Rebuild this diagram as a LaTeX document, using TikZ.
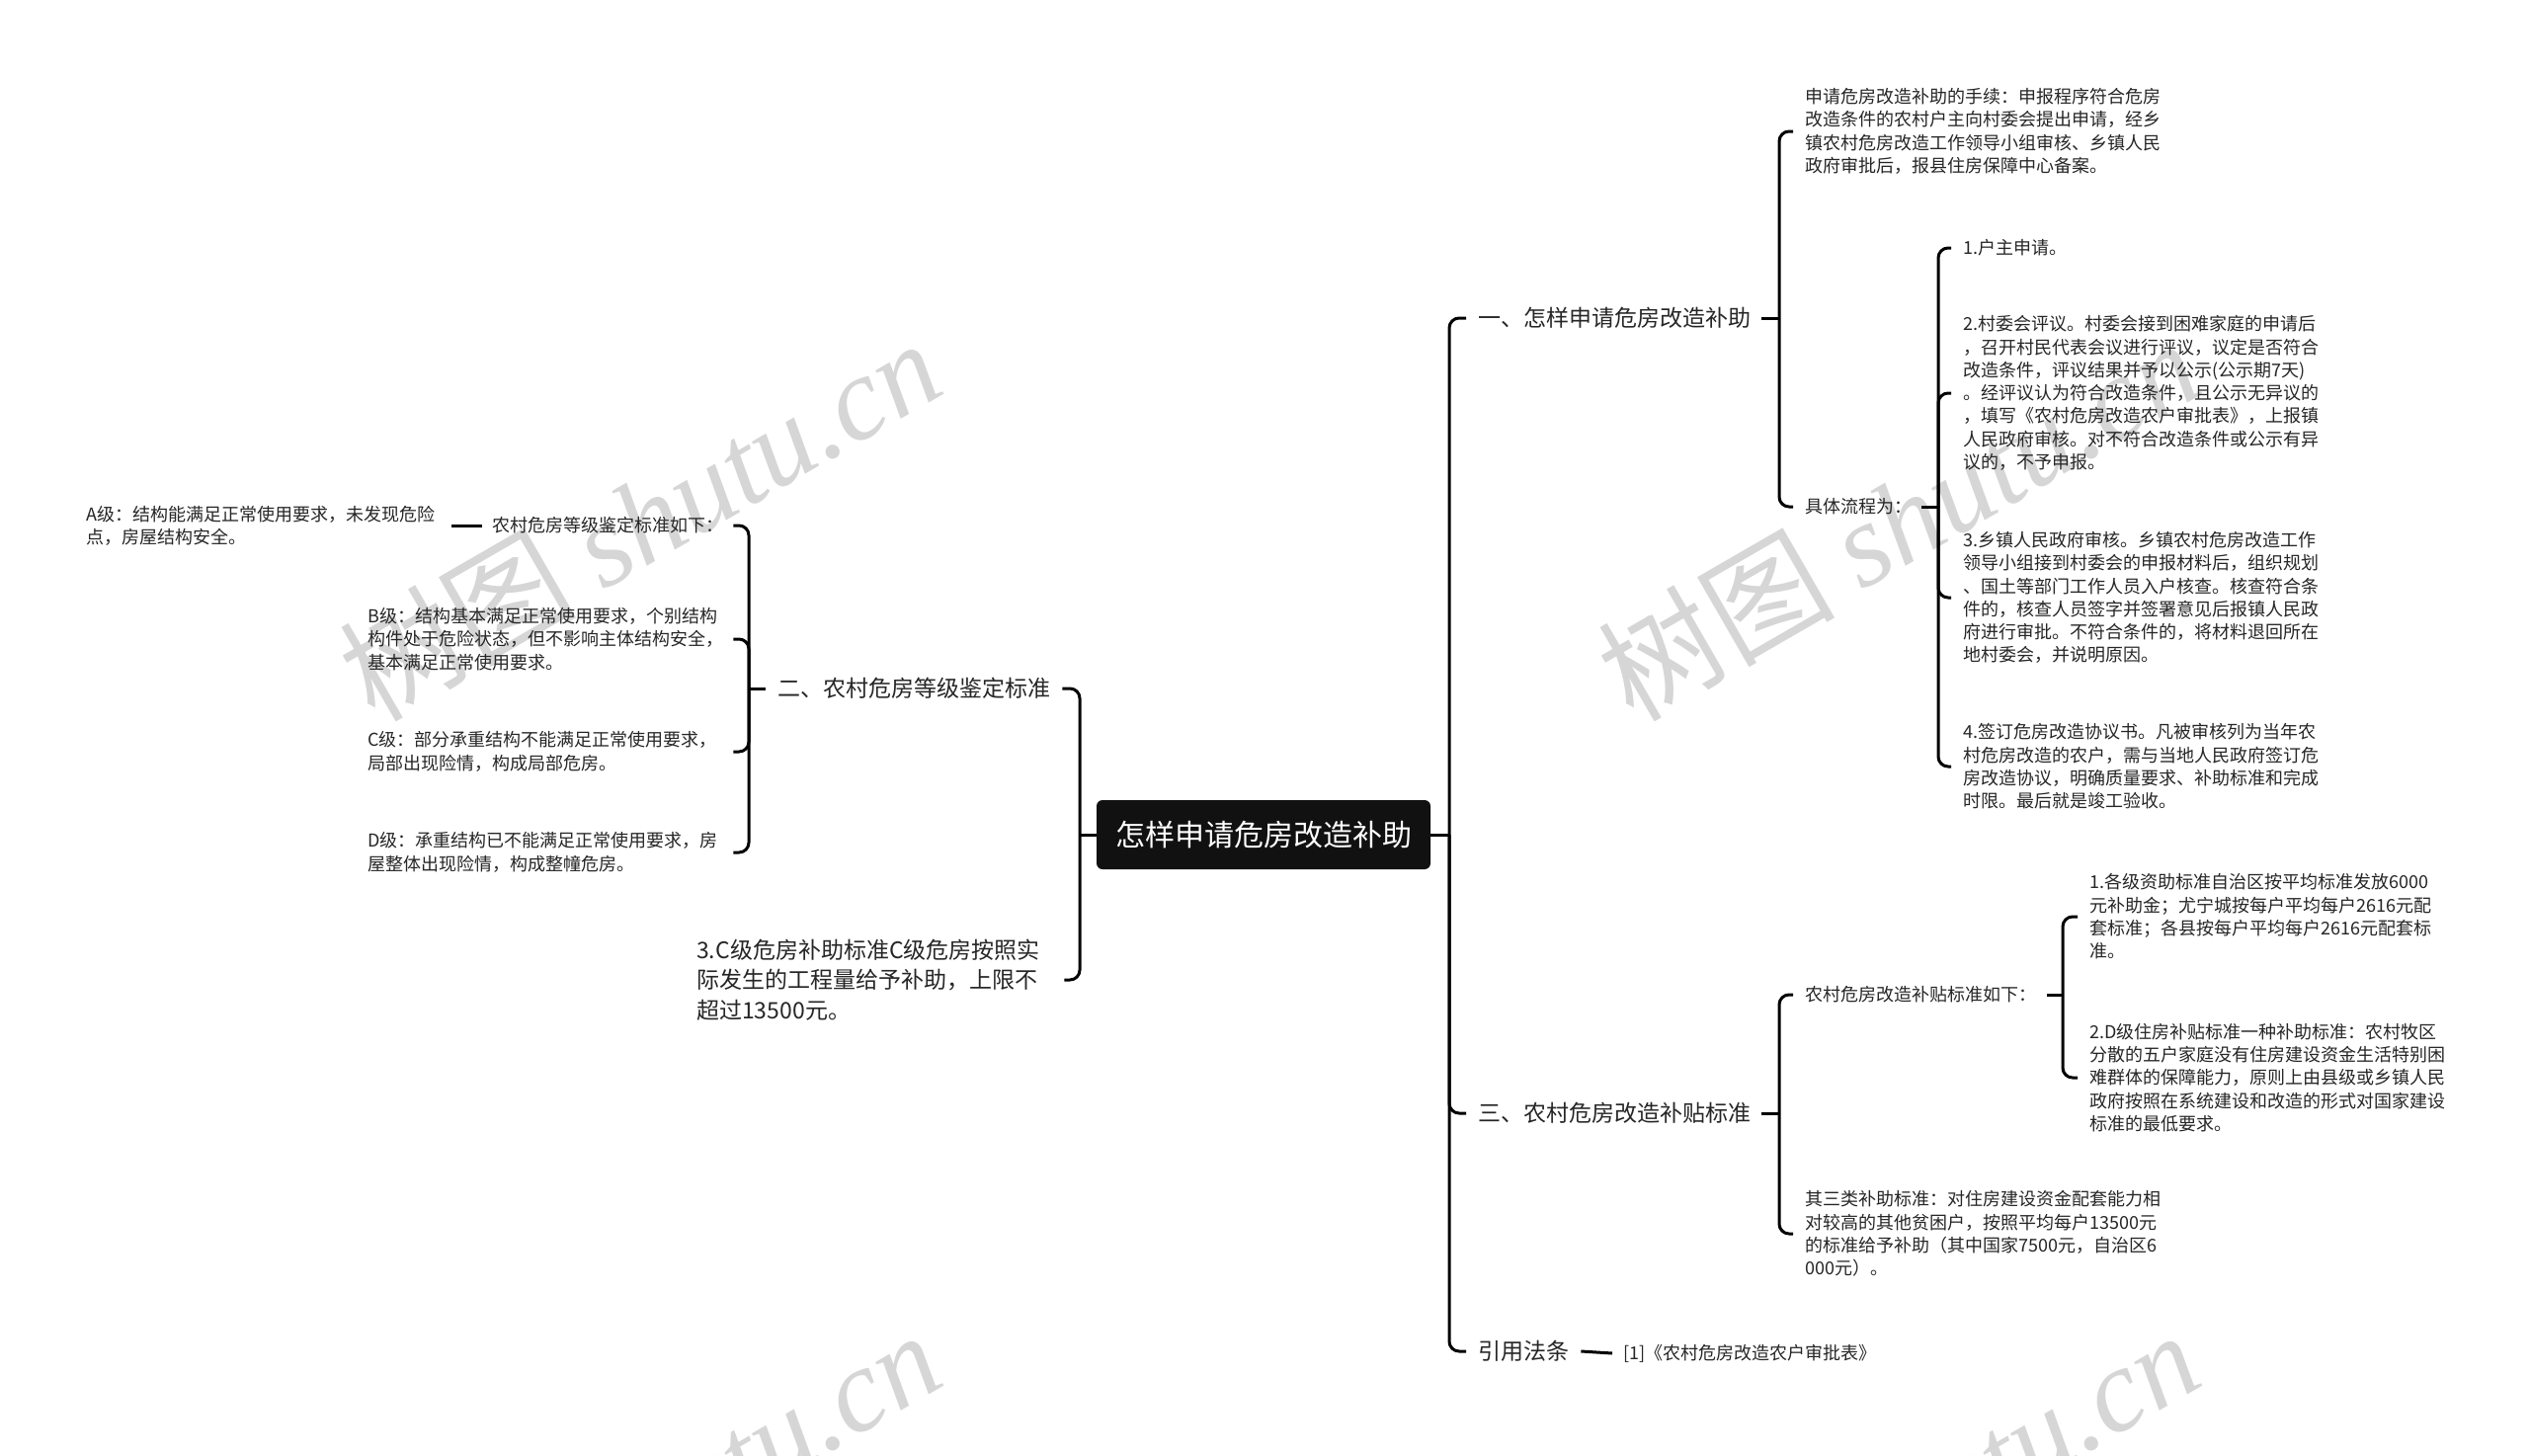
\documentclass[tikz,border=0pt]{standalone}
\usepackage{fontspec}
\setmainfont{Noto Sans CJK SC}
\newfontfamily\cjk{Noto Sans CJK SC}
\newfontfamily\wmserif{Liberation Serif}
\usetikzlibrary{calc}
\definecolor{ink}{RGB}{38,38,38}
\definecolor{rootfill}{RGB}{17,17,17}
\definecolor{wmgray}{RGB}{214,214,214}
\begin{document}
\begin{tikzpicture}[x=1pt,y=-1pt,
  conn/.style={line width=3pt,draw=black,rounded corners=10pt},
  txt/.style={inner sep=0pt,anchor=west,align=left,text=ink},
  lvA/.style={txt,font=\fontsize{23}{30.5}\selectfont},
  lvB/.style={txt,font=\fontsize{18}{23.3}\selectfont},
  rootbox/.style={fill=rootfill,text=white,rounded corners=6pt,minimum width=338pt,minimum height=70pt,inner sep=0pt,font=\fontsize{30}{36}\selectfont},
  wm/.style={text=wmgray,inner sep=0pt,rotate=30,font=\fontsize{120}{130}\selectfont}]
\fill[white] (0,0) rectangle (2560,1473);
\useasboundingbox (0,0) rectangle (2560,1473);
% watermarks
\begin{scope}
\clip (0,0) rectangle (2560,1473);
\node[wm] (wm1) at (647,525) {{\cjk 树图} {\wmserif\itshape shutu.cn}};
\node[wm] (wm2) at (1921,525) {{\cjk 树图} {\wmserif\itshape shutu.cn}};
\node[wm] (wm3) at (647,1529) {{\cjk 树图} {\wmserif\itshape shutu.cn}};
\node[wm] (wm4) at (1921,1529) {{\cjk 树图} {\wmserif\itshape shutu.cn}};
\end{scope}
% root
\node[rootbox] (root) at (1279,845) {怎样申请危房改造补助};
% level 1 right
\node[lvA] (n1) at (1496,322) {一、怎样申请危房改造补助};
\node[lvA] (n3) at (1496,1127) {三、农村危房改造补贴标准};
\node[lvA] (nref) at (1496,1368) {引用法条};
% level 1 left
\node[lvA] (n2) at (787,697) {二、农村危房等级鉴定标准};
\node[lvA,text width=360pt] (n4) at (705,992) {3.C级危房补助标准C级危房按照实\\际发生的工程量给予补助，上限不\\超过13500元。};
% right children of n1
\node[lvB] (a1) at (1827,133) {申请危房改造补助的手续：申报程序符合危房\\改造条件的农村户主向村委会提出申请，经乡\\镇农村危房改造工作领导小组审核、乡镇人民\\政府审批后，报县住房保障中心备案。};
\node[lvB] (a2) at (1827,513) {具体流程为：};
\node[lvB] (s1) at (1987,251) {1.户主申请。};
\node[lvB] (s2) at (1987,398) {2.村委会评议。村委会接到困难家庭的申请后\\，召开村民代表会议进行评议，议定是否符合\\改造条件，评议结果并予以公示(公示期7天)\\。经评议认为符合改造条件，且公示无异议的\\，填写《农村危房改造农户审批表》，上报镇\\人民政府审核。对不符合改造条件或公示有异\\议的，不予申报。};
\node[lvB] (s3) at (1987,605) {3.乡镇人民政府审核。乡镇农村危房改造工作\\领导小组接到村委会的申报材料后，组织规划\\、国土等部门工作人员入户核查。核查符合条\\件的，核查人员签字并签署意见后报镇人民政\\府进行审批。不符合条件的，将材料退回所在\\地村委会，并说明原因。};
\node[lvB] (s4) at (1987,776) {4.签订危房改造协议书。凡被审核列为当年农\\村危房改造的农户，需与当地人民政府签订危\\房改造协议，明确质量要求、补助标准和完成\\时限。最后就是竣工验收。};
% right children of n3
\node[lvB] (c1) at (1827,1007) {农村危房改造补贴标准如下：};
\node[lvB] (c2) at (1827,1249) {其三类补助标准：对住房建设资金配套能力相\\对较高的其他贫困户，按照平均每户13500元\\的标准给予补助（其中国家7500元，自治区6\\000元）。};
\node[lvB] (d1) at (2115,928) {1.各级资助标准自治区按平均标准发放6000\\元补助金；尤宁城按每户平均每户2616元配\\套标准；各县按每户平均每户2616元配套标\\准。};
\node[lvB] (d2) at (2115,1091) {2.D级住房补贴标准一种补助标准：农村牧区\\分散的五户家庭没有住房建设资金生活特别困\\难群体的保障能力，原则上由县级或乡镇人民\\政府按照在系统建设和改造的形式对国家建设\\标准的最低要求。};
\node[lvB] (r1) at (1643,1370) {[1]《农村危房改造农户审批表》};
% left children of n2
\node[lvB] (b0) at (498,532) {农村危房等级鉴定标准如下：};
\node[lvB,text width=360pt] (bA) at (87,532) {A级：结构能满足正常使用要求，未发现危险\\点，房屋结构安全。};
\node[lvB,text width=360pt] (bB) at (372,647) {B级：结构基本满足正常使用要求，个别结构\\构件处于危险状态，但不影响主体结构安全，\\基本满足正常使用要求。};
\node[lvB,text width=360pt] (bC) at (372,761) {C级：部分承重结构不能满足正常使用要求，\\局部出现险情，构成局部危房。};
\node[lvB,text width=360pt] (bD) at (372,863) {D级：承重结构已不能满足正常使用要求，房\\屋整体出现险情，构成整幢危房。};
% connectors
\coordinate (tr) at (1467,845);
\coordinate (tl) at (1093,845);
\draw[conn] (root.east) -- (tr);
\draw[conn] (root.west) -- (tl);
\foreach \n in {n1,n3,nref} \draw[conn] (tr) |- ([xshift=-12pt]\n.west);
\foreach \n in {n2,n4} \draw[conn] (tl) |- ([xshift=12pt]\n.east);
\coordinate (b1) at (1801,322);
\draw[conn] ([xshift=11pt]n1.east) -- (b1);
\foreach \n in {a1,a2} \draw[conn] (b1) |- ([xshift=-12pt]\n.west);
\coordinate (ba2) at (1962,513);
\draw[conn] ([xshift=10pt]a2.east) -- (ba2);
\foreach \n in {s1,s2,s3,s4} \draw[conn] (ba2) |- ([xshift=-12pt]\n.west);
\coordinate (b3) at (1801,1127);
\draw[conn] ([xshift=11pt]n3.east) -- (b3);
\foreach \n in {c1,c2} \draw[conn] (b3) |- ([xshift=-12pt]\n.west);
\coordinate (bc1) at (2088,1007);
\draw[conn] ([xshift=11pt]c1.east) -- (bc1);
\foreach \n in {d1,d2} \draw[conn] (bc1) |- ([xshift=-12pt]\n.west);
\draw[conn] ([xshift=12pt]nref.east) -- ([xshift=-11pt]r1.west);
\coordinate (b2) at (758,697);
\draw[conn] ([xshift=-12pt]n2.west) -- (b2);
\foreach \n in {b0,bB,bC,bD} \draw[conn] (b2) |- ([xshift=10pt]\n.east);
\draw[conn] ([xshift=-10pt]b0.west) -- ([xshift=10pt]bA.east);
\end{tikzpicture}
\end{document}
